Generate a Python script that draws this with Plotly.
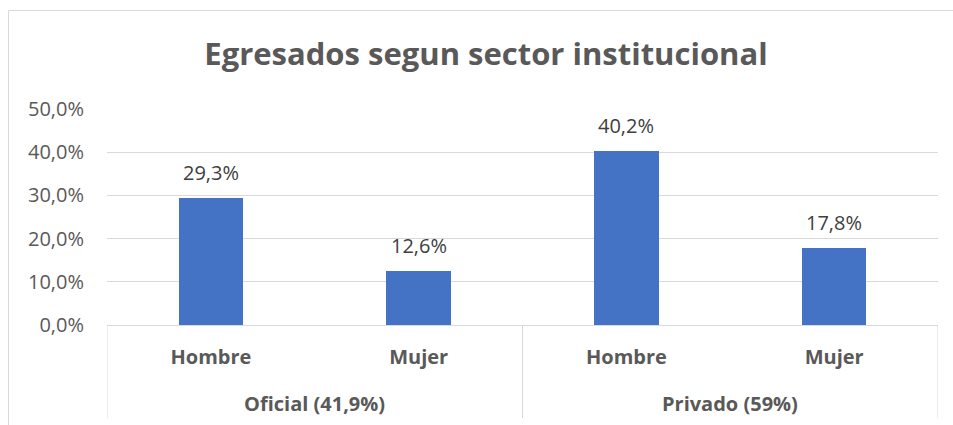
import plotly.graph_objects as go

sectors = ["Oficial (41,9%)", "Oficial (41,9%)", "Privado (59%)", "Privado (59%)"]
sexes = ["Hombre", "Mujer", "Hombre", "Mujer"]
values = [29.3, 12.6, 40.2, 17.8]
y_ticks = [0, 10, 20, 30, 40, 50]

W, H = 953, 425
L, R, T, B = 107, 15, 109, 100
PW, PH = W - L - R, H - T - B
GRAY = "#595959"
LINE = "#D9D9D9"
FONT = "Open Sans"

xs = list(range(len(values)))

fig = go.Figure()
fig.add_trace(go.Bar(
    x=xs,
    y=values,
    width=0.31,
    marker=dict(color="#4472C4", line=dict(width=0)),
    hoverinfo="skip",
))

# data labels
for x, v in zip(xs, values):
    fig.add_annotation(
        x=x, y=v, xref="x", yref="y",
        text=f"{v:.1f}%".replace(".", ","),
        showarrow=False, yanchor="bottom", yshift=10,
        font=dict(family=FONT, size=20, color="#404040"),
    )

# group labels and dividers
groups = []
for s in sectors:
    if s not in groups:
        groups.append(s)
bounds = []
for g in groups:
    idx = [x for x, s in zip(xs, sectors) if s == g]
    fig.add_annotation(
        x=sum(idx) / len(idx), y=(325 - 403) / PH, xref="x", yref="paper",
        text=f"<b>{g}</b>", showarrow=False, yanchor="middle",
        font=dict(family=FONT, size=20, color=GRAY),
    )
    bounds += [min(idx) - 0.5, max(idx) + 0.5]
for b in sorted(set(bounds)):
    fig.add_shape(type="line", xref="x", yref="paper",
                  x0=b, x1=b, y0=0, y1=(325 - 418) / PH,
                  line=dict(color=LINE, width=1))

# chart border (left and top visible)
fig.add_shape(type="rect", xref="paper", yref="paper",
              x0=(8.5 - L) / PW, x1=1.2,
              y0=-0.6, y1=1 + (T - 10.5) / PH,
              line=dict(color=LINE, width=1), fillcolor="rgba(0,0,0,0)", layer="below")

fig.update_layout(
    width=W, height=H,
    margin=dict(l=L, r=R, t=T, b=B, autoexpand=False),
    paper_bgcolor="white", plot_bgcolor="white",
    showlegend=False,
    bargap=0,
    title=dict(
        text="<b>Egresados segun sector institucional</b>",
        x=486 / W, xanchor="center", xref="container",
        y=1 - 54 / H, yanchor="middle", yref="container",
        font=dict(family=FONT, size=31, color=GRAY),
    ),
    font=dict(family=FONT, color=GRAY),
)
fig.update_yaxes(
    range=[0, 50], tickvals=y_ticks,
    ticktext=[f"{t:.1f}%".replace(".", ",") for t in y_ticks],
    showgrid=True, gridcolor=LINE, gridwidth=1,
    zeroline=False, showline=False, ticks="",
    ticklabelstandoff=22,
    tickfont=dict(family=FONT, size=20, color=GRAY),
)
fig.update_xaxes(
    range=[-0.5, len(values) - 0.5],
    tickvals=xs, ticktext=[f"<b>{s}</b>" for s in sexes],
    showline=True, linecolor=LINE, linewidth=1,
    ticks="", showgrid=False, zeroline=False,
    ticklabelstandoff=14,
    tickfont=dict(family=FONT, size=20, color=GRAY),
)

fig.write_html("out.html", config={"displayModeBar": False},
               post_script="document.body.style.margin='0';")
